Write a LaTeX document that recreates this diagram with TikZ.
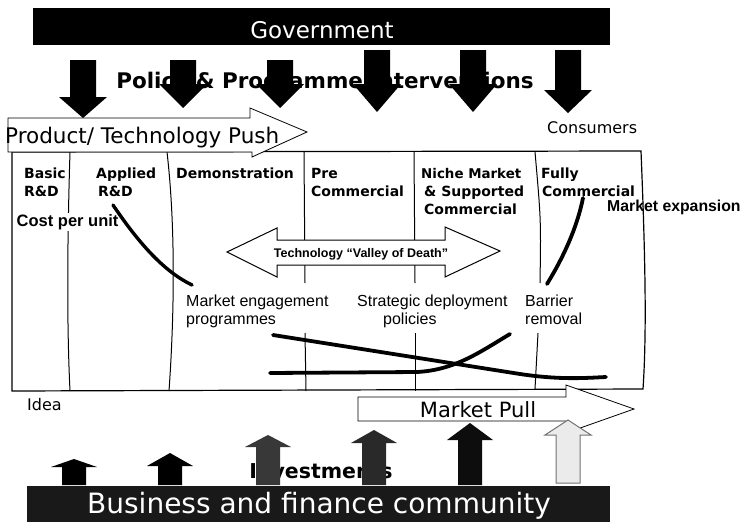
\documentclass[tikz,border=0pt]{standalone}
\usepackage{fontspec}
\setmainfont{DejaVu Sans}
\newfontfamily\arialf{Liberation Sans}
\newcommand{\dnarr}[4]{\fill[black] (#1-13,#2) -- (#1+13,#2) -- (#1+13,#3) -- (#1+24,#3) -- (#1,#4) -- (#1-24,#3) -- (#1-13,#3) -- cycle;}
\newcommand{\uparr}[5]{\path[#5] (#1-12,#4) -- (#1-12,#3) -- (#1-23,#3) -- (#1,#2) -- (#1+23,#3) -- (#1+12,#3) -- (#1+12,#4) -- cycle;}
\begin{document}
\begin{tikzpicture}[x=1pt,y=-1pt,
  lbl/.style={inner sep=0pt, anchor=base west},
  colhead/.style={lbl, font=\bfseries\fontsize{14}{16}\selectfont},
  note/.style={lbl, font=\arialf\fontsize{16}{18}\selectfont},
  bigtxt/.style={inner sep=0pt, anchor=base},
  trend/.style={line width=3.8pt, line cap=round, line join=round},
  sepline/.style={line width=1pt},
  outline/.style={draw=black, fill=white, line width=0.8pt}]

\path[use as bounding box, fill=white] (0,0) rectangle (747,522);

% Government bar
\fill[black] (33,8) rectangle (610,45);
\node[bigtxt, text=white, font=\fontsize{23}{26}\selectfont] (gov) at (322,38) {Government};

% Policy text, partly hidden by arrows
\node[bigtxt, font=\bfseries\fontsize{21.5}{25}\selectfont] (policy) at (325,88) {Policy \& Programme Interventions};

% down arrows
\dnarr{83}{60}{97}{118}
\dnarr{183}{60}{84}{108}
\dnarr{280}{60}{84}{108}
\dnarr{377}{50}{84}{112}
\dnarr{473}{50}{84}{112}
\dnarr{568}{50}{90}{113}

\node[lbl, font=\fontsize{16}{18}\selectfont] (consumers) at (547,133) {Consumers};

% table
\draw[line width=1.2pt, fill=white] (12,152) -- (641,151) .. controls (645,250) and (647,330) .. (643,389) -- (12,391) -- cycle;
\draw[sepline] (70,152) .. controls (67,250) and (67,330) .. (70,391);
\draw[sepline] (167,152) .. controls (176,230) and (174,320) .. (169,391);
\draw[sepline] (304,152) -- (305,283);
\draw[sepline] (305,333) -- (306,391);
\draw[sepline] (414,152) -- (415,283);
\draw[sepline] (415,333) -- (415,391);
\draw[sepline] (535,152) .. controls (541,220) .. (540,283);
\draw[sepline] (538,333) -- (535,389);

% Product / Technology push arrow
\draw[outline] (8,118) -- (250,118) -- (250,108) -- (307,132) -- (252,157) -- (252,152) -- (8,152) -- cycle;
\node[lbl, font=\fontsize{21.5}{24}\selectfont] (push) at (5,143) {Product/ Technology Push};

% Valley of death arrow
\draw[outline, line width=1pt] (227,252) -- (277,228) -- (277,240) -- (445,240) -- (445,227) -- (500,251) -- (445,277) -- (445,265) -- (277,265) -- (277,277) -- cycle;
\node[bigtxt, font=\arialf\bfseries\fontsize{12.5}{14}\selectfont] (valley) at (361,257) {Technology “Valley of Death”};

% column headings
\node[colhead] (basic1) at (24,178) {Basic};
\node[colhead] (basic2) at (24,196) {R\&D};
\node[colhead] (appl1) at (96,178) {Applied};
\node[colhead] (appl2) at (98,196) {R\&D};
\node[colhead] (demo) at (176,178) {Demonstration};
\node[colhead] (pre1) at (311,178) {Pre};
\node[colhead] (pre2) at (311,196) {Commercial};
\node[colhead, font=\bfseries\fontsize{13.4}{16}\selectfont] (niche1) at (421,178) {Niche Market};
\node[colhead] (niche2) at (424,196) {\& Supported};
\node[colhead] (niche3) at (424,214) {Commercial};
\node[colhead] (fully1) at (541,178) {Fully};
\node[colhead] (fully2) at (542,196) {Commercial};

\node[lbl, fill=white, inner sep=1.5pt, font=\arialf\bfseries\fontsize{16.5}{18}\selectfont] (cost) at (15,226) {Cost per unit};
\node[lbl, font=\arialf\bfseries\fontsize{15.8}{18}\selectfont] (expansion) at (607,211) {Market expansion};

\node[note] (me1) at (186,306) {Market engagement};
\node[note] (me2) at (186,324) {programmes};
\node[note] (sd1) at (357,306) {Strategic deployment};
\node[note] (sd2) at (383,324) {policies};
\node[note] (br1) at (525,306) {Barrier};
\node[note] (br2) at (525,324) {removal};

% trend curves
\draw[trend, line width=3.4pt] (113,205) .. controls (140,245) and (165,272) .. (192,285);
\draw[trend] (547,284) .. controls (563,258) and (577,228) .. (583,198);
\draw[trend] (273,335) -- (520,374) .. controls (560,380) and (585,378) .. (606,377);
\draw[trend] (270,373) -- (417,372) .. controls (455,370) and (480,352) .. (510,334);

\node[lbl, font=\fontsize{16}{18}\selectfont] (idea) at (27,410) {Idea};

% Market pull arrow
\draw[outline] (358,397) -- (566,397) -- (566,385) -- (634,409) -- (566,433) -- (566,421) -- (358,421) -- cycle;
\node[bigtxt, font=\fontsize{21}{24}\selectfont] (pull) at (478,417) {Market Pull};

% Investments text, partly hidden by arrows
\node[bigtxt, font=\bfseries\fontsize{20.5}{22}\selectfont] (invest) at (321,478) {Investments};

% up arrows
\uparr{74}{459}{467}{485}{fill=black}
\uparr{170}{453}{466}{485}{fill=black}
\uparr{268}{435}{447}{485}{fill=black!78}
\uparr{374}{430}{443}{485}{fill=black!84}
\uparr{470}{423}{440}{485}{fill=black!95}
\uparr{568}{420}{435}{483}{fill=black!8, draw=black!55, line width=1pt}

% Business bar
\fill[black!90] (27,486) rectangle (610,522);
\node[bigtxt, text=white, font=\fontsize{28}{30}\selectfont] (biz) at (319,513) {Business and finance community};
\end{tikzpicture}
\end{document}
